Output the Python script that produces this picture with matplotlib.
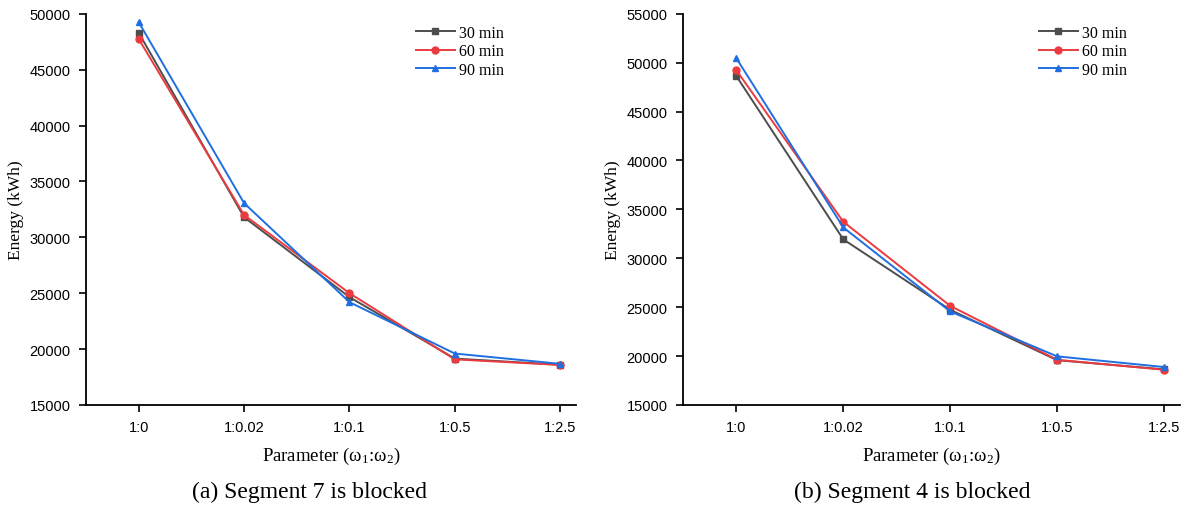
import matplotlib
matplotlib.use("Agg")
import matplotlib.pyplot as plt

plt.rcParams["mathtext.fontset"] = "custom"
plt.rcParams["mathtext.rm"] = "Liberation Serif"
plt.rcParams["mathtext.it"] = "Liberation Serif"

PARAMS = ["1:0", "1:0.02", "1:0.1", "1:0.5", "1:2.5"]
SERIES = ["30 min", "60 min", "90 min"]
COLORS = ["#4d4d4d", "#eb3b3f", "#1f6fe0"]
MARKERS = ["s", "o", "^"]

# (a) Segment 7 blocked
seg7_30 = [48300, 31800, 24650, 19150, 18600]
seg7_60 = [47750, 32000, 25000, 19080, 18580]
seg7_90 = [49250, 33060, 24200, 19600, 18680]

# (b) Segment 4 blocked
seg4_30 = [48620, 31930, 24730, 19580, 18640]
seg4_60 = [49220, 33730, 25130, 19620, 18600]
seg4_90 = [50440, 33150, 24560, 19970, 18880]

panels = [
    ([seg7_30, seg7_60, seg7_90], (15000, 50000), "(a) Segment 7 is blocked",
     [86 / 1195, 0.204, 490 / 1195, 0.767], 310 / 1195, 0.875),
    ([seg4_30, seg4_60, seg4_90], (15000, 55000), "(b) Segment 4 is blocked",
     [683 / 1195, 0.204, 497 / 1195, 0.767], 912 / 1195, 0.915),
]

fig = plt.figure(figsize=(11.95, 5.1), dpi=100)
x = list(range(len(PARAMS)))

for data, ylim, caption, rect, cap_x, leg_x in panels:
    ax = fig.add_axes(rect)
    for vals, name, c, m in zip(data, SERIES, COLORS, MARKERS):
        ax.plot(x, vals, color=c, marker=m, markersize=5, linewidth=1.4, label=name)
    ax.set_xlim(-0.5, 4.15)
    ax.set_ylim(*ylim)
    ax.set_yticks(range(ylim[0], ylim[1] + 1, 5000))
    ax.set_xticks(x)
    ax.set_xticklabels(PARAMS)
    for s in ["top", "right"]:
        ax.spines[s].set_visible(False)
    for s in ["left", "bottom"]:
        ax.spines[s].set_linewidth(1.3)
    ax.tick_params(direction="out", length=5, width=1.2, labelsize=10.5, pad=6)
    for lab in ax.get_xticklabels() + ax.get_yticklabels():
        lab.set_fontfamily("Liberation Sans")
    ax.set_ylabel("Energy (kWh)", fontfamily="Liberation Serif", fontsize=12.5)
    ax.set_xlabel("Parameter (ω$_1$:ω$_2$)", fontfamily="Liberation Serif",
                  fontsize=13.5, labelpad=8)
    ax.legend(loc="upper right", bbox_to_anchor=(leg_x, 1.0), frameon=False,
              prop={"family": "Liberation Serif", "size": 11.5},
              handlelength=2.4, handletextpad=0.25, labelspacing=0.15,
              borderaxespad=0.3)
    fig.text(cap_x, 1 - 492 / 510, caption, ha="center", va="center",
             fontfamily="Liberation Serif", fontsize=17)

fig.savefig("out.png", dpi=100)
